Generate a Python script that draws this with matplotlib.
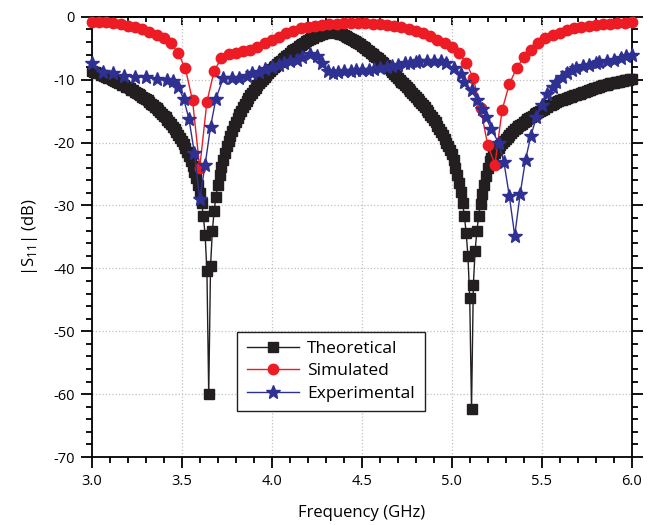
import numpy as np
import matplotlib
matplotlib.use('Agg')
import matplotlib.pyplot as plt
from matplotlib.ticker import MultipleLocator, FormatStrFormatter

plt.rcParams['font.family'] = ['Open Sans', 'DejaVu Sans']
plt.rcParams['axes.unicode_minus'] = False
plt.rcParams['mathtext.fontset'] = 'custom'
plt.rcParams['mathtext.rm'] = 'Open Sans'

# theoretical |S11| (dB), 3.00 - 6.00 GHz in 10 MHz steps
freq_theory = np.round(3.0 + 0.01 * np.arange(301), 2)
s11_theory = [
    -8.6, -8.7, -8.8, -8.9, -9.0, -9.2, -9.3, -9.4, -9.5, -9.7,          # 3.00
    -9.8, -9.9, -10.1, -10.2, -10.3, -10.5, -10.6, -10.8, -10.9, -11.1,  # 3.10
    -11.2, -11.4, -11.6, -11.7, -11.9, -12.1, -12.3, -12.5, -12.7, -12.9,  # 3.20
    -13.1, -13.3, -13.6, -13.8, -14.0, -14.3, -14.5, -14.8, -15.1, -15.4,  # 3.30
    -15.7, -16.0, -16.4, -16.7, -17.1, -17.5, -17.9, -18.3, -18.8, -19.3,  # 3.40
    -19.8, -20.3, -20.9, -21.5, -22.2, -22.9, -23.7, -24.6, -25.6, -26.7,  # 3.50
    -28.0, -29.6, -31.6, -34.7, -40.5, -60.0, -39.7, -34.1, -30.9, -28.6,  # 3.60
    -26.8, -25.2, -23.9, -22.7, -21.6, -20.6, -19.7, -18.9, -18.1, -17.4,  # 3.70
    -16.7, -16.1, -15.5, -14.9, -14.4, -13.9, -13.4, -12.9, -12.5, -12.1,  # 3.80
    -11.7, -11.3, -10.9, -10.6, -10.2, -9.9, -9.6, -9.2, -8.9, -8.6,      # 3.90
    -8.3, -8.0, -7.8, -7.5, -7.2, -7.0, -6.7, -6.5, -6.2, -6.0,          # 4.00
    -5.7, -5.5, -5.3, -5.1, -4.9, -4.7, -4.5, -4.3, -4.1, -3.9,          # 4.10
    -3.7, -3.6, -3.4, -3.3, -3.1, -3.0, -2.9, -2.8, -2.7, -2.6,          # 4.20
    -2.5, -2.4, -2.4, -2.3, -2.4, -2.4, -2.5, -2.6, -2.7, -2.8,          # 4.30
    -2.9, -3.1, -3.2, -3.4, -3.5, -3.7, -3.9, -4.0, -4.2, -4.4,          # 4.40
    -4.6, -4.8, -5.0, -5.2, -5.5, -5.7, -5.9, -6.2, -6.4, -6.6,          # 4.50
    -6.9, -7.2, -7.4, -7.7, -8.0, -8.2, -8.5, -8.8, -9.1, -9.4,          # 4.60
    -9.7, -10.0, -10.3, -10.6, -10.9, -11.2, -11.5, -11.8, -12.1, -12.4,  # 4.70
    -12.7, -13.1, -13.4, -13.7, -14.1, -14.4, -14.8, -15.2, -15.6, -16.0,  # 4.80
    -16.4, -16.8, -17.3, -17.8, -18.3, -18.8, -19.4, -20.0, -20.6, -21.2,  # 4.90
    -21.8, -22.8, -24.0, -25.2, -26.5, -27.8, -29.6, -31.6, -34.3, -38.0,  # 5.00
    -44.7, -62.4, -42.7, -37.2, -34.0, -31.6, -29.7, -28.2, -26.7, -25.3,  # 5.10
    -24.0, -23.0, -22.5, -22.0, -21.6, -21.2, -20.8, -20.4, -20.0, -19.7,  # 5.20
    -19.4, -19.1, -18.8, -18.5, -18.2, -17.9, -17.7, -17.4, -17.2, -17.0,  # 5.30
    -16.7, -16.5, -16.3, -16.1, -15.9, -15.7, -15.5, -15.3, -15.1, -14.9,  # 5.40
    -14.8, -14.6, -14.4, -14.3, -14.1, -14.0, -13.8, -13.7, -13.6, -13.4,  # 5.50
    -13.3, -13.2, -13.1, -13.0, -12.9, -12.8, -12.7, -12.6, -12.5, -12.4,  # 5.60
    -12.3, -12.2, -12.1, -12.0, -11.9, -11.8, -11.7, -11.6, -11.5, -11.4,  # 5.70
    -11.3, -11.2, -11.1, -11.0, -10.9, -10.9, -10.8, -10.7, -10.6, -10.6,  # 5.80
    -10.5, -10.4, -10.4, -10.3, -10.2, -10.2, -10.1, -10.0, -10.0, -9.9,  # 5.90
    -9.9,                                                                # 6.00
]

# simulated |S11| (dB), 40 MHz steps
freq_sim = np.round(3.0 + 0.04 * np.arange(76), 2)
s11_sim = [
    -0.8, -0.8, -0.9, -1.0, -1.2, -1.4, -1.7, -2.0, -2.4, -2.9,       # 3.00
    -3.4, -4.2, -5.8, -8.2, -13.3, -24.0, -13.5, -8.6, -6.6, -5.9,    # 3.40
    -5.7, -5.5, -5.3, -4.8, -4.2, -3.7, -3.2, -2.6, -2.2, -1.8,       # 3.80
    -1.6, -1.4, -1.3, -1.2, -1.1, -1.0, -1.0, -1.0, -1.0, -1.1,       # 4.20
    -1.2, -1.3, -1.5, -1.7, -1.9, -2.2, -2.6, -3.1, -3.7, -4.2,       # 4.60
    -4.8, -5.8, -7.3, -9.8, -14.5, -20.4, -23.5, -14.8, -10.7, -8.2,  # 5.00
    -6.4, -5.3, -4.2, -3.4, -2.9, -2.5, -2.1, -1.8, -1.6, -1.4,       # 5.40
    -1.3, -1.2, -1.1, -1.0, -1.0, -0.9,                               # 5.80
]

# measured |S11| (dB)
freq_meas = [
    3.00, 3.06, 3.12, 3.18, 3.24, 3.30, 3.36, 3.42, 3.45, 3.48,
    3.51, 3.54, 3.57, 3.60, 3.63, 3.66, 3.69, 3.73, 3.78, 3.82,
    3.86, 3.89, 3.93, 3.96, 4.00, 4.04, 4.07, 4.10, 4.14, 4.17,
    4.21, 4.25, 4.28, 4.31, 4.34, 4.37, 4.40, 4.44, 4.47, 4.50,
    4.54, 4.57, 4.60, 4.64, 4.67, 4.70, 4.74, 4.77, 4.80, 4.82,
    4.86, 4.90, 4.94, 4.97, 5.01, 5.05, 5.07, 5.11, 5.14, 5.17,
    5.19, 5.22, 5.26, 5.29, 5.32, 5.35, 5.38, 5.41, 5.44, 5.47,
    5.50, 5.53, 5.56, 5.58, 5.61, 5.64, 5.67, 5.69, 5.73, 5.76,
    5.80, 5.82, 5.86, 5.90, 5.94, 5.97, 6.00,
]
s11_meas = [
    -7.4, -8.8, -9.0, -9.4, -9.5, -9.6, -9.9, -10.0, -10.2, -11.1,
    -13.0, -16.2, -21.6, -29.0, -23.5, -17.5, -13.0, -9.8, -9.8, -9.8,
    -9.4, -9.0, -8.7, -8.3, -8.0, -7.7, -7.4, -7.1, -6.9, -6.4,
    -5.9, -6.3, -7.3, -8.6, -9.0, -8.7, -8.6, -8.6, -8.5, -8.5,
    -8.4, -8.3, -8.2, -8.0, -7.8, -7.6, -7.4, -7.3, -7.2, -7.1,
    -7.0, -7.0, -7.1, -7.4, -8.2, -9.1, -10.3, -11.7, -13.2, -14.7,
    -16.0, -17.9, -20.0, -23.1, -28.5, -34.8, -28.2, -22.7, -18.9, -16.0,
    -14.0, -12.3, -11.2, -10.3, -9.5, -9.0, -8.5, -8.2, -7.9, -7.7,
    -7.4, -7.2, -7.0, -6.8, -6.6, -6.3, -6.1,
]

fig = plt.figure(figsize=(6.51, 5.25), dpi=100)
ax = fig.add_axes([0.1409, 0.1295, 0.8295, 0.8385])

ax.plot(freq_theory, s11_theory, '-s', color='#231f20', ms=6.5, lw=1,
        label='Theoretical', clip_on=False, zorder=3)
ax.plot(freq_sim, s11_sim, '-o', color='#ed1c24', ms=7.5, lw=1,
        label='Simulated', clip_on=False, zorder=4)
ax.plot(freq_meas, s11_meas, '-*', color='#2e3192', ms=10, lw=1,
        label='Experimental', clip_on=False, zorder=5)

ax.set_xlim(3.0, 6.0)
ax.set_ylim(-70, 0)
ax.xaxis.set_major_locator(MultipleLocator(0.5))
ax.xaxis.set_minor_locator(MultipleLocator(0.1))
ax.yaxis.set_major_locator(MultipleLocator(10))
ax.yaxis.set_minor_locator(MultipleLocator(2))
ax.xaxis.set_major_formatter(FormatStrFormatter('%.1f'))
ax.yaxis.set_major_formatter(FormatStrFormatter('%d'))

ax.tick_params(which='both', direction='out', width=1.3, right=True,
               labelsize=10.5, pad=4)
ax.tick_params(which='major', length=8)
ax.tick_params(which='minor', length=4.5)

# top axis: inward ticks, no labels
top = ax.secondary_xaxis('top')
top.xaxis.set_major_locator(MultipleLocator(0.5))
top.xaxis.set_minor_locator(MultipleLocator(0.1))
top.tick_params(which='both', direction='in', width=1.3, labeltop=False)
top.tick_params(which='major', length=6)
top.tick_params(which='minor', length=3.5)
top.spines['top'].set_linewidth(1.3)

for sp in ax.spines.values():
    sp.set_linewidth(1.3)

ax.grid(True, which='major', linestyle=':', color='#c0c0c0', lw=0.9)

ax.set_xlabel('Frequency (GHz)', fontsize=12, labelpad=12)
ax.set_ylabel(r'|S$_{11}$| (dB)', fontsize=12, labelpad=10)

leg = ax.legend(loc='lower left', bbox_to_anchor=(0.269, 0.104),
                fontsize=12.5, frameon=True, fancybox=False,
                edgecolor='#231f20', framealpha=1, borderaxespad=0,
                handlelength=3.0, labelspacing=0.35, borderpad=0.55,
                handletextpad=0.5)
leg.get_frame().set_linewidth(1.0)

fig.savefig('out.png', dpi=100)
